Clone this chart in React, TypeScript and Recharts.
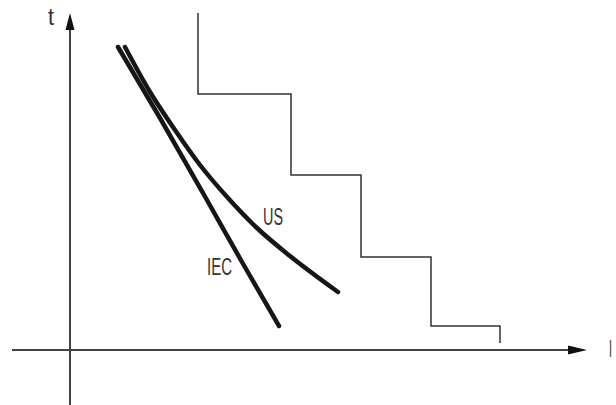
import React from "react";
import { ComposedChart, Line, ReferenceDot, ReferenceLine, XAxis, YAxis } from "recharts";

// trip curves (I along x, t up)
const iecCurve = [
  { i: 4.8, t: 30.3 },
  { i: 9.0, t: 23.2 },
  { i: 13.3, t: 15.7 },
  { i: 17.2, t: 8.8 },
  { i: 20.9, t: 2.4 },
];

const usCurve = [
  { i: 5.5, t: 30.3 },
  { i: 8.0, t: 25.8 },
  { i: 10.5, t: 22.0 },
  { i: 13.0, t: 18.5 },
  { i: 15.8, t: 15.2 },
  { i: 18.7, t: 12.2 },
  { i: 22.0, t: 9.4 },
  { i: 26.8, t: 5.8 },
];

// breaker steps: each point = where the level ends
const stepLevels = [
  { i: 12.8, t: 33.7 },
  { i: 22.1, t: 25.6 },
  { i: 29.1, t: 17.5 },
  { i: 36.1, t: 9.3 },
  { i: 43.0, t: 2.4 },
  { i: 43.0, t: 0.7 },
];

const axisColor = "#444";
const textColor = "#333";

const upArrow = (p: any) => (
  <polygon points={`${p.cx},${p.cy} ${p.cx - 4.5},${p.cy + 17} ${p.cx + 4.5},${p.cy + 17}`} fill="#111" />
);

const rightArrow = (p: any) => (
  <polygon points={`${p.cx},${p.cy} ${p.cx - 19},${p.cy - 4.5} ${p.cx - 19},${p.cy + 4.5}`} fill="#111" />
);

const makeText = (value: string, width: number) => (p: any) => (
  <text
    x={p.cx}
    y={p.cy}
    fill={textColor}
    fontSize={23}
    fontFamily="Liberation Sans, Arial, sans-serif"
    textLength={width}
    lengthAdjust="spacingAndGlyphs"
  >
    {value}
  </text>
);

export default function App() {
  return (
    <div style={{ position: "absolute", left: 0, top: 0, width: 616, height: 405, background: "#fff" }}>
      <ComposedChart width={616} height={405} margin={{ top: 0, right: 0, bottom: 0, left: 0 }}>
        <XAxis type="number" dataKey="i" domain={[-7, 54.6]} hide allowDataOverflow />
        <YAxis type="number" dataKey="t" domain={[-5.5, 35]} hide allowDataOverflow />

        <ReferenceLine segment={[{ x: -5.8, y: 0 }, { x: 50, y: 0 }]} stroke={axisColor} strokeWidth={2} ifOverflow="visible" />
        <ReferenceLine segment={[{ x: 0, y: -5.5 }, { x: 0, y: 32 }]} stroke={axisColor} strokeWidth={2} ifOverflow="visible" />
        <ReferenceDot x={0} y={33.7} shape={upArrow} ifOverflow="visible" />
        <ReferenceDot x={51.7} y={0} shape={rightArrow} ifOverflow="visible" />

        <Line
          data={stepLevels}
          dataKey="t"
          type="stepBefore"
          stroke="#333"
          strokeWidth={1.5}
          dot={false}
          activeDot={false}
          isAnimationActive={false}
        />
        <Line
          data={iecCurve}
          dataKey="t"
          type="monotone"
          stroke="#161616"
          strokeWidth={4.5}
          strokeLinecap="round"
          dot={false}
          activeDot={false}
          isAnimationActive={false}
        />
        <Line
          data={usCurve}
          dataKey="t"
          type="monotone"
          stroke="#161616"
          strokeWidth={4.5}
          strokeLinecap="round"
          dot={false}
          activeDot={false}
          isAnimationActive={false}
        />

        <ReferenceDot x={19.3} y={12.5} shape={makeText("US", 20)} ifOverflow="visible" />
        <ReferenceDot x={13.7} y={7.5} shape={makeText("IEC", 25)} ifOverflow="visible" />
        <ReferenceDot x={-2.2} y={32.5} shape={makeText("t", 6)} ifOverflow="visible" />
        <ReferenceDot x={53.9} y={-0.7} shape={makeText("I", 3)} ifOverflow="visible" />
      </ComposedChart>
    </div>
  );
}
